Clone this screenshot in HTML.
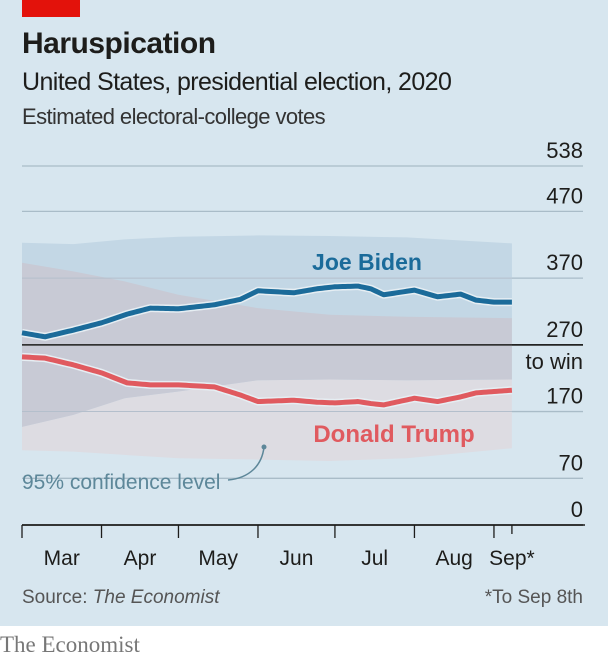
<!DOCTYPE html>
<html><head><meta charset="utf-8">
<style>
body{margin:0;width:608px;height:662px;overflow:hidden;background:#fff;font-family:"Liberation Sans",sans-serif}
#card{position:absolute;left:0;top:0;width:608px;height:626px;background:#d7e6ef}
.t{position:absolute;white-space:nowrap;color:#1d1d1b}
</style></head><body>
<div id="card">
<div style="position:absolute;left:22px;top:0;width:58px;height:17px;background:#e3120b"></div>
<div class="t" style="left:22px;top:27px;font-size:30px;font-weight:bold;letter-spacing:-0.5px">Haruspication</div>
<div class="t" style="left:22px;top:68px;font-size:25px;letter-spacing:-0.6px">United States, presidential election, 2020</div>
<div class="t" style="left:22px;top:104px;font-size:22px;letter-spacing:-0.6px;color:#333">Estimated electoral-college votes</div>
<svg id="chart" width="608" height="626" style="position:absolute;left:0;top:0"></svg>
</div>
<div class="t" style="left:0;top:632px;font-family:'Liberation Serif',serif;font-size:23px;color:#777">The Economist</div>
<script>
const days=[0,9,20,31,41,50,61,75,85,92,106,115,122,131,136,141,153,162,171,177,184,191];
const biden=[288,282,292,303,316,325,324,330,338,351,348,354,357,358,354,345,352,342,346,337,334,334];
const trump=[252,250,240,228,213,210,210,207,195,185,187,184,183,185,182,180,190,185,192,198,200,202];
const bDays=[0,20,40,61,92,120,150,191];
const bidenHi=[423,421,428,432,434,433,431,422];
const bidenLo=[147,165,190,200,217,218,217,218];
const trumpHi=[393,380,365,345,325,315,312,310];
const trumpLo=[112,110,105,100,98,96,100,115];
const yTicks=[0,70,170,270,370,470,538];
const months=['Mar','Apr','May','Jun','Jul','Aug','Sep*'];
const monthDays=[0,31,61,92,122,153,184,191];
const svg=document.getElementById('chart');
const NS='http://www.w3.org/2000/svg';
const X=d=>22+d*2.565;
const Y=v=>525-v*0.6673;
function mk(tag,attrs,parent){const e=document.createElementNS(NS,tag);for(const k in attrs)e.setAttribute(k,attrs[k]);(parent||svg).appendChild(e);return e;}
function interp(ds,vs,d){for(let i=0;i<ds.length-1;i++){if(d<=ds[i+1]){const t=(d-ds[i])/(ds[i+1]-ds[i]);return vs[i]+t*(vs[i+1]-vs[i]);}}return vs[vs.length-1];}
function band(hi,lo){let p=bDays.map((d,i)=>X(d)+','+Y(hi[i]));p=p.concat(bDays.slice().reverse().map((d,i)=>X(d)+','+Y(lo[lo.length-1-i])));return p.join(' ');}
yTicks.forEach(v=>{
 const g=mk('line',{x1:22,x2:583,y1:Y(v),y2:Y(v),stroke:(v===270||v===0)?'#1d1d1b':'#a9bcc8','stroke-width':(v===270||v===0)?1.5:1.3});
 
 
 const t=mk('text',{x:583,y:Y(v)-8,'text-anchor':'end','font-size':22,fill:'#1d1d1b','font-family':'Liberation Sans'});
 t.textContent=v;
 
 
});
const tw=mk('text',{x:583,y:Y(270)+24,'text-anchor':'end','font-size':22,fill:'#1d1d1b'});tw.textContent='to win';


const tb=mk('polygon',{points:band(trumpHi,trumpLo),fill:'#dddce2'});


const bb=mk('polygon',{points:band(bidenHi,bidenLo),fill:'#c3d7e5'});


const ovHi=trumpHi.map((v,i)=>Math.min(v,bidenHi[i])),ovLo=bidenLo.map((v,i)=>Math.max(v,trumpLo[i]));
const ob=mk('polygon',{points:band(ovHi,ovLo),fill:'#c8cad5'});


[170,370].forEach(v=>{mk('line',{x1:22,x2:512,y1:Y(v),y2:Y(v),stroke:'#b4bfcc','stroke-width':1});});
mk('line',{x1:22,x2:583,y1:Y(270),y2:Y(270),stroke:'#1d1d1b','stroke-width':1.5});
function line(vs,col,name){const pts=[];for(let d=0;d<=191;d+=1){pts.push(X(d)+','+Y(interp(days,vs,d)));}
 mk('polyline',{points:pts.join(' '),fill:'none',stroke:'#e6eef3','stroke-width':8,'stroke-linejoin':'round'});
 const l=mk('polyline',{points:pts.join(' '),fill:'none',stroke:col,'stroke-width':5,'stroke-linejoin':'round'});
 
 }
line(biden,'#1b6b9a','biden-line');
line(trump,'#e05a5f','trump-line');
const bl=mk('text',{x:367,y:270,'text-anchor':'middle','font-size':23,'font-weight':'bold',fill:'#1b6b9a'});bl.textContent='Joe Biden';


const tl=mk('text',{x:394,y:442,'text-anchor':'middle','font-size':24,'font-weight':'bold',fill:'#e05a5f'});tl.textContent='Donald Trump';


mk('path',{d:'M264,447 C262,465 250,478 228,480',fill:'none',stroke:'#5d8799','stroke-width':1.5});
mk('circle',{cx:264,cy:447,r:2.5,fill:'#5d8799'});
const cl=mk('text',{x:22,y:489,'font-size':21,fill:'#5d8799'});cl.textContent='95% confidence level';


mk('line',{x1:22,x2:585,y1:525,y2:525,stroke:'#1d1d1b','stroke-width':1.5});
monthDays.forEach((d,i)=>{const tk=mk('line',{x1:X(d),x2:X(d),y1:525,y2:i===7?534:538,stroke:'#1d1d1b','stroke-width':1.3});
 
 });
months.forEach((m,i)=>{const cx=i<6?(X(monthDays[i])+X(monthDays[i+1]))/2:X(184)+18;
 const t=mk('text',{x:cx,y:565,'text-anchor':'middle','font-size':21,fill:'#1d1d1b'});t.textContent=m;
 
 });
const src=mk('text',{x:22,y:603,'font-size':19,fill:'#555'});src.innerHTML='Source: <tspan font-style="italic">The Economist</tspan>';


const fn=mk('text',{x:583,y:603,'text-anchor':'end','font-size':19,fill:'#555'});fn.textContent='*To Sep 8th';


</script>
</body></html>
